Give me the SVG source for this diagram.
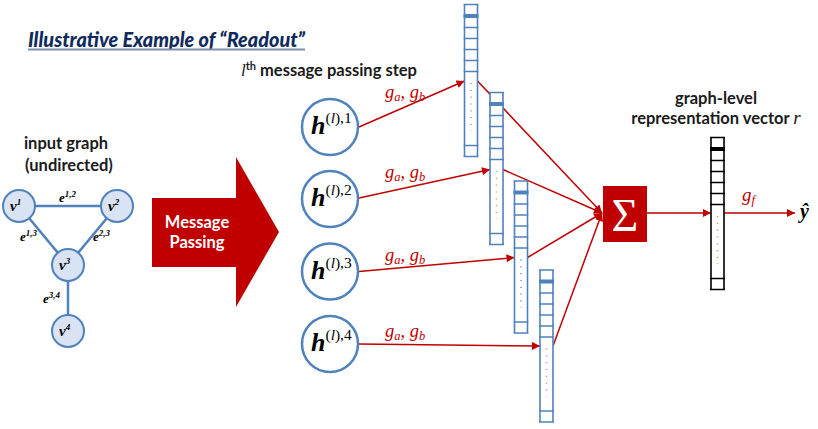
<svg xmlns="http://www.w3.org/2000/svg" xmlns:xlink="http://www.w3.org/1999/xlink" width="818" height="429" viewBox="0 0 818 429">
<style>
.lbl{font-family:Lato,"Liberation Sans",sans-serif;font-weight:bold;fill:#1a1a1a}
.math{font-family:"Liberation Serif","DejaVu Serif",serif;font-style:italic}
.red{fill:#c00000}
.gedge{stroke:#4f81bd;stroke-width:2.5;fill:none}
.gnode{fill:#dae3f3;stroke:#4f81bd;stroke-width:2}
.hnode{fill:#fff;stroke:#4f81bd;stroke-width:2.5}
.conn{stroke:#c00000;stroke-width:1.5;fill:none}
</style>
<defs>
<marker id="ah" viewBox="0 0 10 10" refX="10" refY="5" markerWidth="10" markerHeight="8" markerUnits="userSpaceOnUse" orient="auto">
<path d="M0,0 L10,5 L0,10 Z" fill="#c00000"/>
</marker>
<g id="vec">
<rect x="0" y="0" width="13" height="152" fill="#fff" stroke="none"/>
<path d="M0,0 V152 M13,0 V152 M-1,0 H14 M-1,23 H14 M-1,34 H14 M-1,45 H14 M-1,56 H14 M-1,67 H14 M-1,141 H14 M-1,152 H14" stroke="currentColor" stroke-width="1.6" fill="none"/>
<rect x="-1" y="9.5" width="15" height="4" fill="currentColor"/>
</g>
</defs>

<text x="28" y="47" font-family="Lato,'Liberation Sans',sans-serif" font-weight="900" font-style="italic" font-size="21" fill="#0f2a5c" textLength="277" lengthAdjust="spacingAndGlyphs">Illustrative Example of “Readout”</text>
<line x1="28" y1="49.5" x2="305" y2="49.5" stroke="#7f8fab" stroke-width="2"/>

<text class="lbl" x="66" y="149" font-size="16.5" text-anchor="middle">input graph</text>
<text class="lbl" x="69" y="171" font-size="16.5" text-anchor="middle">(undirected)</text>

<g id="graph-edges">
<line class="gedge" x1="19" y1="206" x2="117" y2="206"/>
<line class="gedge" x1="19" y1="206" x2="68" y2="265"/>
<line class="gedge" x1="117" y1="206" x2="68" y2="265"/>
<line class="gedge" x1="68" y1="265" x2="68" y2="331"/>
<text class="math" font-weight="bold" font-size="13" x="59" y="202">e<tspan font-size="9" dy="-5">1,2</tspan></text>
<text class="math" font-weight="bold" font-size="13" x="20" y="241">e<tspan font-size="9" dy="-5">1,3</tspan></text>
<text class="math" font-weight="bold" font-size="13" x="93" y="241">e<tspan font-size="9" dy="-5">2,3</tspan></text>
<text class="math" font-weight="bold" font-size="13" x="43" y="303">e<tspan font-size="9" dy="-5">3,4</tspan></text>
</g>
<g id="v1"><circle class="gnode" cx="19" cy="206" r="16"/><text class="math" font-weight="bold" font-size="15" x="10" y="211">v<tspan font-size="9" dy="-6">1</tspan></text></g>
<g id="v2"><circle class="gnode" cx="117" cy="206" r="16"/><text class="math" font-weight="bold" font-size="15" x="108" y="211">v<tspan font-size="9" dy="-6">2</tspan></text></g>
<g id="v3"><circle class="gnode" cx="68" cy="265" r="16"/><text class="math" font-weight="bold" font-size="15" x="59" y="270">v<tspan font-size="9" dy="-6">3</tspan></text></g>
<g id="v4"><circle class="gnode" cx="68" cy="331" r="16"/><text class="math" font-weight="bold" font-size="15" x="59" y="336">v<tspan font-size="9" dy="-6">4</tspan></text></g>

<g id="mp-arrow">
<path d="M152,198 H236 V157 L279,232 L236,307 V267 H152 Z" fill="#c00000"/>
<text class="lbl" x="197" y="228" font-size="16.5" text-anchor="middle" style="fill:#fff">Message</text>
<text class="lbl" x="197" y="248" font-size="16.5" text-anchor="middle" style="fill:#fff">Passing</text>
</g>

<text class="lbl" x="241" y="76" font-size="16.5"><tspan class="math" font-weight="normal" font-size="17">l</tspan><tspan font-size="11" dy="-6">th</tspan><tspan dy="6"> message passing step</tspan></text>

<g id="connectors">
<line class="conn" x1="359" y1="127" x2="464.5" y2="81" marker-end="url(#ah)"/>
<line class="conn" x1="359" y1="198" x2="490" y2="169.5" marker-end="url(#ah)"/>
<line class="conn" x1="359" y1="271.5" x2="514.5" y2="257.5" marker-end="url(#ah)"/>
<line class="conn" x1="359" y1="344" x2="540" y2="346" marker-end="url(#ah)"/>
<line class="conn" x1="477.5" y1="81" x2="602" y2="213" marker-end="url(#ah)"/>
<line class="conn" x1="503" y1="169.5" x2="602" y2="213" marker-end="url(#ah)"/>
<line class="conn" x1="527.5" y1="257.5" x2="602" y2="213" marker-end="url(#ah)"/>
<line class="conn" x1="553" y1="346" x2="602" y2="213" marker-end="url(#ah)"/>
<line class="conn" x1="647" y1="213" x2="711" y2="213" marker-end="url(#ah)"/>
<line class="conn" x1="724" y1="213" x2="795" y2="213" marker-end="url(#ah)"/>
<text class="math red" font-size="18.5" x="385" y="98">g<tspan font-size="12.5" dy="3">a</tspan><tspan dy="-3">, g</tspan><tspan font-size="12.5" dy="3">b</tspan></text>
<text class="math red" font-size="18.5" x="385" y="178">g<tspan font-size="12.5" dy="3">a</tspan><tspan dy="-3">, g</tspan><tspan font-size="12.5" dy="3">b</tspan></text>
<text class="math red" font-size="18.5" x="385" y="261">g<tspan font-size="12.5" dy="3">a</tspan><tspan dy="-3">, g</tspan><tspan font-size="12.5" dy="3">b</tspan></text>
<text class="math red" font-size="18.5" x="385" y="337">g<tspan font-size="12.5" dy="3">a</tspan><tspan dy="-3">, g</tspan><tspan font-size="12.5" dy="3">b</tspan></text>
<text class="math red" font-size="19" x="742" y="201">g<tspan font-size="12.5" dy="3">f</tspan></text>
</g>

<g id="h1"><circle class="hnode" cx="330" cy="127" r="28"/><text class="math" font-weight="bold" font-size="26" x="311" y="134">h<tspan font-size="15.5" font-weight="normal" font-style="normal" dy="-11">(<tspan font-style="italic">l</tspan>),1</tspan></text></g>
<g id="h2"><circle class="hnode" cx="330" cy="199" r="28"/><text class="math" font-weight="bold" font-size="26" x="311" y="206">h<tspan font-size="15.5" font-weight="normal" font-style="normal" dy="-11">(<tspan font-style="italic">l</tspan>),2</tspan></text></g>
<g id="h3"><circle class="hnode" cx="330" cy="271.5" r="28"/><text class="math" font-weight="bold" font-size="26" x="311" y="278.5">h<tspan font-size="15.5" font-weight="normal" font-style="normal" dy="-11">(<tspan font-style="italic">l</tspan>),3</tspan></text></g>
<g id="h4"><circle class="hnode" cx="330" cy="344" r="28"/><text class="math" font-weight="bold" font-size="26" x="311" y="351">h<tspan font-size="15.5" font-weight="normal" font-style="normal" dy="-11">(<tspan font-style="italic">l</tspan>),4</tspan></text></g>

<g id="vec1" style="color:#4f81bd"><use xlink:href="#vec" href="#vec" x="464.5" y="4.5"/><line x1="471" y1="83" x2="471" y2="131" stroke="#d99694" stroke-width="1.6" stroke-dasharray="1.2 5.6"/></g>
<g id="vec2" style="color:#4f81bd"><use xlink:href="#vec" href="#vec" x="490" y="92.5"/><line x1="496.5" y1="171" x2="496.5" y2="219" stroke="#d99694" stroke-width="1.6" stroke-dasharray="1.2 5.6"/></g>
<g id="vec3" style="color:#4f81bd"><use xlink:href="#vec" href="#vec" x="514.5" y="181"/><line x1="521" y1="259.5" x2="521" y2="307.5" stroke="#9b8fc8" stroke-width="1.6" stroke-dasharray="1.2 5.6"/></g>
<g id="vec4" style="color:#4f81bd"><use xlink:href="#vec" href="#vec" x="540" y="270"/><line x1="546.5" y1="348.5" x2="546.5" y2="396.5" stroke="#d99694" stroke-width="1.6" stroke-dasharray="1.2 5.6"/></g>

<g id="sum"><rect x="603" y="186" width="44" height="56" fill="#c00000"/><text x="625" y="231" font-family="'Liberation Serif',serif" font-size="46" fill="#fff" text-anchor="middle">Σ</text></g>

<g id="rvec" style="color:#000"><use xlink:href="#vec" href="#vec" x="711" y="137.5"/><line x1="717.5" y1="216" x2="717.5" y2="264" stroke="#c8a070" stroke-width="1.6" stroke-dasharray="1.2 5.6"/></g>
<text class="lbl" x="716" y="104" font-size="16.5" text-anchor="middle">graph-level</text>
<text class="lbl" x="716" y="124" font-size="16.5" text-anchor="middle">representation vector <tspan class="math" font-weight="normal" font-size="19">r</tspan></text>

<g id="yhat"><text class="math" font-weight="bold" font-size="20" x="800" y="218">ŷ</text></g>
</svg>
